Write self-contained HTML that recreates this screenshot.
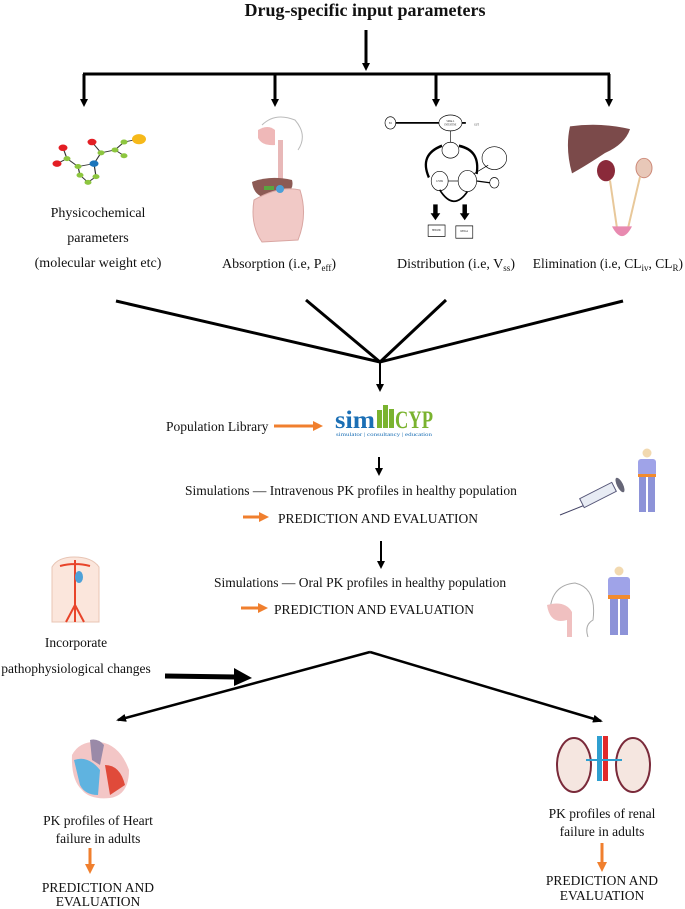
<!DOCTYPE html>
<html><head><meta charset="utf-8"><style>
html,body{margin:0;padding:0;background:#fff;}
svg{display:block;}
text{font-family:"Liberation Serif",serif;fill:#111;}
</style></head><body>
<svg width="685" height="909" viewBox="0 0 685 909" xmlns="http://www.w3.org/2000/svg">
<defs>
<marker id="ah" markerWidth="8" markerHeight="8" refX="5" refY="4" orient="auto" markerUnits="userSpaceOnUse"><path d="M0,0 L8,4 L0,8 Z" fill="#000"/></marker>
<marker id="ahs" markerWidth="10" markerHeight="8" refX="8" refY="4" orient="auto" markerUnits="userSpaceOnUse"><path d="M0,0 L10,4 L0,8 Z" fill="#000"/></marker>
<marker id="oa" markerWidth="10" markerHeight="10" refX="5" refY="5" orient="auto" markerUnits="userSpaceOnUse"><path d="M0,0 L10,5 L0,10 Z" fill="#f07f2e"/></marker>
</defs>
<text x="365" y="16" font-size="18" font-weight="bold" text-anchor="middle">Drug-specific input parameters</text>
<g stroke="#000" stroke-width="3" fill="none">
<line x1="366" y1="30" x2="366" y2="68" marker-end="url(#ah)"/>
<line x1="83" y1="74" x2="610" y2="74"/>
<line x1="84" y1="74" x2="84" y2="104" marker-end="url(#ah)"/>
<line x1="275" y1="74" x2="275" y2="104" marker-end="url(#ah)"/>
<line x1="436" y1="74" x2="436" y2="104" marker-end="url(#ah)"/>
<line x1="609" y1="74" x2="609" y2="104" marker-end="url(#ah)"/>
</g>
<!-- molecule -->
<g transform="translate(0,137) scale(1,0.72) translate(0,-187)">
<g stroke="#333" stroke-width="1.2">
<line x1="57" y1="224" x2="67" y2="217"/><line x1="63" y1="202" x2="67" y2="217"/><line x1="67" y1="217" x2="78" y2="228"/><line x1="78" y1="228" x2="94" y2="224"/><line x1="94" y1="224" x2="101" y2="209"/><line x1="92" y1="194" x2="101" y2="209"/><line x1="101" y1="209" x2="115" y2="205"/><line x1="115" y1="205" x2="124" y2="194"/><line x1="124" y1="194" x2="138" y2="190"/><line x1="115" y1="205" x2="124" y2="213"/><line x1="78" y1="228" x2="80" y2="240"/><line x1="80" y1="240" x2="88" y2="250"/><line x1="88" y1="250" x2="96" y2="242"/><line x1="96" y1="242" x2="94" y2="224"/>
</g>
<circle cx="63" cy="202" r="4.5" fill="#e31e24"/><circle cx="57" cy="224" r="4.5" fill="#e31e24"/><circle cx="92" cy="194" r="4.5" fill="#e31e24"/>
<circle cx="67" cy="217" r="3.5" fill="#8dc63f"/><circle cx="78" cy="228" r="3.5" fill="#8dc63f"/><circle cx="101" cy="209" r="3.5" fill="#8dc63f"/><circle cx="115" cy="205" r="3.5" fill="#8dc63f"/><circle cx="124" cy="194" r="3.5" fill="#8dc63f"/><circle cx="124" cy="213" r="3.5" fill="#8dc63f"/><circle cx="80" cy="240" r="3.5" fill="#8dc63f"/><circle cx="88" cy="250" r="3.5" fill="#8dc63f"/><circle cx="96" cy="242" r="3.5" fill="#8dc63f"/>
<circle cx="94" cy="224" r="4.5" fill="#1b75bb"/><circle cx="139" cy="190" r="7" fill="#f6b91a"/>
</g>
<!-- digestive -->
<g>
<path d="M262,125 Q275,112 295,120 Q308,135 298,150" stroke="#bbb" fill="none"/>
<path d="M258,130 Q268,124 275,130 L275,145 Q262,146 258,138Z" fill="#efb8b8"/>
<rect x="278" y="140" width="5" height="40" fill="#e8b8b8"/>
<path d="M252,182 Q270,175 292,180 Q296,195 270,198 Q254,198 252,182Z" fill="#8c5a54"/>
<path d="M254,200 Q250,225 262,242 L298,240 Q308,215 300,190 Q280,185 254,200Z" fill="#f1c9c6" stroke="#d9a6a2" stroke-width="1"/>
<circle cx="280" cy="189" r="4" fill="#4b9fd8"/><rect x="264" y="186" width="10" height="4" fill="#5aa63f"/>
</g>
<!-- distribution diagram -->
<g transform="translate(385,115) scale(0.77,0.88) translate(-351,-115)">
<g stroke="#000" fill="#fff" stroke-width="0.8">
<line x1="361" y1="124" x2="424" y2="124" stroke-width="2"/>
<line x1="450" y1="124" x2="456" y2="124" stroke-width="2"/>
<line x1="436" y1="132" x2="436" y2="150"/>
<circle cx="358" cy="124" r="7"/>
<ellipse cx="436" cy="124" rx="15" ry="9"/>
<ellipse cx="436" cy="155" rx="11" ry="9"/>
<ellipse cx="493" cy="164" rx="16" ry="13"/>
<circle cx="422" cy="190" r="11"/><circle cx="458" cy="190" r="12"/><circle cx="493" cy="192" r="6"/>
<line x1="433" y1="190" x2="446" y2="190"/><line x1="470" y1="190" x2="487" y2="192" stroke-width="1.5"/><line x1="466" y1="182" x2="485" y2="172"/>
<path d="M425,150 Q395,160 408,186" stroke-width="3" fill="none"/>
<path d="M447,150 Q475,155 470,182" stroke-width="3" fill="none"/>
<path d="M422,200 Q440,225 458,202" stroke-width="2" fill="none"/>
<rect x="414" y="217" width="5" height="10" fill="#000"/><rect x="452" y="217" width="5" height="10" fill="#000"/>
<path d="M411,227 L422,227 L416.5,234Z" fill="#000"/><path d="M449,227 L460,227 L454.5,234Z" fill="#000"/>
<rect x="407" y="240" width="22" height="13"/><rect x="443" y="241" width="22" height="14"/>
</g>
<g font-size="3" text-anchor="middle"><text x="358" y="125">PO</text><text x="436" y="123">SMALL</text><text x="436" y="127">INTESTINE</text><text x="470" y="127">GUT</text><text x="422" y="191">LIVER</text><text x="418" y="247">HEPATIC</text><text x="454" y="248">RENAL</text></g>
</g>
<!-- liver kidney -->
<g transform="translate(0,122) scale(1,0.885) translate(0,-160)">
<path d="M570,165 Q600,160 630,168 Q625,185 605,195 Q585,210 572,218 Q565,190 570,165Z" fill="#7b4a4a"/>
<ellipse cx="606" cy="215" rx="9" ry="12" fill="#8a2a3a"/>
<ellipse cx="644" cy="212" rx="8" ry="11" fill="#e8c8b8" stroke="#c87" stroke-width="1"/>
<path d="M610,226 L617,280 M640,222 L628,280" stroke="#e8c89a" stroke-width="2" fill="none"/>
<path d="M612,278 Q622,300 632,278Z" fill="#e88ab0"/>
</g>
<g font-size="14" text-anchor="middle">
<text x="98" y="217">Physicochemical</text>
<text x="98" y="242">parameters</text>
<text x="98" y="267">(molecular weight etc)</text>
<text x="279" y="268">Absorption (i.e, P<tspan font-size="9" dy="3">eff</tspan><tspan dy="-3">)</tspan></text>
<text x="456" y="268">Distribution (i.e, V<tspan font-size="9" dy="3">ss</tspan><tspan dy="-3">)</tspan></text>
</g>
<text x="683" y="268" font-size="13.5" text-anchor="end">Elimination (i.e, CL<tspan font-size="9" dy="3">iv</tspan><tspan dy="-3">, CL</tspan><tspan font-size="9" dy="3">R</tspan><tspan dy="-3">)</tspan></text>
<g stroke="#000" stroke-width="3" fill="none">
<line x1="116" y1="301" x2="380" y2="362"/>
<line x1="306" y1="300" x2="380" y2="362"/>
<line x1="446" y1="300" x2="380" y2="362"/>
<line x1="623" y1="301" x2="380" y2="362"/>
</g>
<line x1="380" y1="362" x2="380" y2="389" stroke="#000" stroke-width="2" marker-end="url(#ah)"/>
<g font-size="13.5">
<text x="166" y="431">Population Library</text>
<text x="185" y="495">Simulations —  Intravenous PK profiles in healthy population</text>
<text x="278" y="523">PREDICTION AND EVALUATION</text>
<text x="214" y="587">Simulations —  Oral PK profiles in healthy population</text>
<text x="274" y="614">PREDICTION AND EVALUATION</text>
</g>
<line x1="274" y1="426" x2="318" y2="426" stroke="#f07f2e" stroke-width="3" marker-end="url(#oa)"/>
<!-- simcyp -->
<text x="335" y="428" font-family="Liberation Sans,sans-serif" font-weight="bold" font-size="25" style="fill:#1b6fb5" textLength="40" lengthAdjust="spacingAndGlyphs">sim</text>
<g fill="#7ab32f"><rect x="377" y="410" width="5" height="18"/><rect x="383" y="405" width="5" height="23"/><rect x="389" y="409" width="5" height="19"/></g>
<text x="395" y="428" font-family="Liberation Sans,sans-serif" font-weight="bold" font-size="25" style="fill:#7ab32f" textLength="38" lengthAdjust="spacingAndGlyphs">CYP</text>
<text x="336" y="436" font-family="Liberation Sans,sans-serif" font-size="5.5" style="fill:#1b6fb5" textLength="96" lengthAdjust="spacingAndGlyphs">simulator  | consultancy | education</text>
<line x1="379" y1="457" x2="379" y2="473" stroke="#000" stroke-width="2" marker-end="url(#ah)"/>
<line x1="243" y1="517" x2="264" y2="517" stroke="#f07f2e" stroke-width="3" marker-end="url(#oa)"/>
<line x1="381" y1="541" x2="381" y2="566" stroke="#000" stroke-width="2" marker-end="url(#ah)"/>
<line x1="241" y1="608" x2="263" y2="608" stroke="#f07f2e" stroke-width="3" marker-end="url(#oa)"/>
<!-- person with syringe -->
<g>
<circle cx="647" cy="453" r="4.5" fill="#f2d9b0"/>
<rect x="638" y="459" width="18" height="17" rx="3" fill="#9fa3e8"/>
<rect x="638" y="474" width="18" height="3" fill="#f28b2e"/>
<rect x="639" y="477" width="7" height="35" fill="#8d93d8"/><rect x="648" y="477" width="7" height="35" fill="#8d93d8"/>
<line x1="560" y1="515" x2="585" y2="505" stroke="#446" stroke-width="1"/>
<rect x="580" y="490" width="36" height="10" fill="#e8ecf4" stroke="#557" transform="rotate(-27 598 495)"/>
<ellipse cx="620" cy="485" rx="3" ry="8" fill="#667" transform="rotate(-27 620 485)"/>
</g>
<!-- person oral -->
<g>
<circle cx="619" cy="571" r="4.5" fill="#f2d9b0"/>
<rect x="608" y="577" width="22" height="20" rx="3" fill="#9fa3e8"/>
<rect x="608" y="595" width="22" height="4" fill="#f28b2e"/>
<rect x="610" y="599" width="8" height="36" fill="#8d93d8"/><rect x="620" y="599" width="8" height="36" fill="#8d93d8"/>
<path d="M550,610 Q552,585 575,583 Q597,588 593,620 Q584,625 588,637" stroke="#aaa" fill="none"/>
<path d="M547,605 Q565,600 572,612 L572,637 L567,637 L567,620 Q550,625 547,605Z" fill="#f0c0c0"/>
</g>
<!-- body -->
<g>
<path d="M52,622 L52,567 Q58,557 74,557 Q92,557 99,567 L99,622Z" fill="#fbe6dc" stroke="#e8c5b5"/>
<path d="M75,560 L75,622 M75,605 L66,622 M75,605 L84,622 M60,566 Q75,562 90,566" stroke="#e8442a" stroke-width="2" fill="none"/>
<ellipse cx="79" cy="577" rx="4" ry="6" fill="#4ea1d8"/>
</g>
<g font-size="13.5" text-anchor="middle">
<text x="76" y="647">Incorporate</text>
<text x="76" y="673">pathophysiological changes</text>
</g>
<line x1="165" y1="676" x2="236" y2="677" stroke="#000" stroke-width="5"/>
<path d="M234,668 L252,678 L234,686Z" fill="#000"/>
<g stroke="#000" stroke-width="2.5" fill="none">
<line x1="370" y1="652" x2="118" y2="720" marker-end="url(#ahs)"/>
<line x1="370" y1="652" x2="601" y2="721" marker-end="url(#ahs)"/>
</g>
<!-- heart -->
<g>
<path d="M72,755 Q80,740 100,742 Q120,745 129,770 Q129,795 110,798 Q90,800 82,790 Q71,780 72,755Z" fill="#f3c6c6"/>
<path d="M74,760 Q88,755 100,770 L98,795 Q85,795 80,785Z" fill="#5fb3e0"/>
<path d="M105,765 Q120,765 125,785 L110,795Z" fill="#e04a3a"/>
<path d="M90,740 Q98,738 104,745 L100,765 L92,760Z" fill="#9a8aa8"/>
</g>
<!-- kidneys -->
<g>
<ellipse cx="574" cy="765" rx="17" ry="27" fill="#f5e6e0" stroke="#7a2a3a" stroke-width="2"/>
<ellipse cx="633" cy="765" rx="17" ry="27" fill="#f5e6e0" stroke="#7a2a3a" stroke-width="2"/>
<rect x="597" y="736" width="5" height="45" fill="#2f9fd0"/><rect x="603" y="736" width="5" height="45" fill="#e02a2a"/>
<line x1="586" y1="760" x2="622" y2="760" stroke="#2f9fd0" stroke-width="2"/>
</g>
<g font-size="13.5" text-anchor="middle">
<text x="98" y="825">PK profiles of Heart</text>
<text x="98" y="843">failure in adults</text>
<text x="98" y="892">PREDICTION AND</text>
<text x="98" y="906">EVALUATION</text>
<text x="602" y="818">PK profiles of renal</text>
<text x="602" y="836">failure in adults</text>
<text x="602" y="885">PREDICTION AND</text>
<text x="602" y="900">EVALUATION</text>
</g>
<line x1="90" y1="848" x2="90" y2="869" stroke="#f07f2e" stroke-width="3" marker-end="url(#oa)"/>
<line x1="602" y1="843" x2="602" y2="867" stroke="#f07f2e" stroke-width="3" marker-end="url(#oa)"/>
</svg>
</body></html>
